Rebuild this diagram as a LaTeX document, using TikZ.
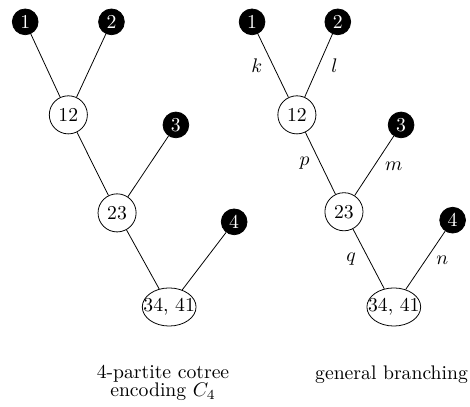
\documentclass[tikz,border=0pt]{standalone}
\usepackage{amsmath}
\usepackage{amssymb}
\usetikzlibrary{positioning,shapes.geometric}

\begin{document}
\begin{tikzpicture}[on grid, leaf/.style = {draw, circle, fill=black, text=white, minimum size=4.6mm, inner sep=0pt}, inner/.style = {draw, circle, minimum size=6.8mm, inner sep=0pt}, root/.style = {draw, ellipse, minimum width=9.6mm, minimum height=6.8mm, inner xsep=-3.5pt, inner ysep=0pt}]
\useasboundingbox (0,0) rectangle (8.39,-7.265);
% cotree
\node[root] (a34) at (3.02,-5.48) {34, 41};
\node[inner] (a23) [above left=1.68cm and 0.93cm of a34] {$23$};
\node[leaf] (a4) [above right=1.52cm and 1.16cm of a34] {$4$};
\node[inner] (a12) [above left=1.75cm and 0.87cm of a23] {$12$};
\node[leaf] (a3) [above right=1.57cm and 1.05cm of a23] {$3$};
\node[leaf] (a1) [above left=1.66cm and 0.77cm of a12] {$1$};
\node[leaf] (a2) [above right=1.66cm and 0.77cm of a12] {$2$};
\draw (a1) -- (a12);
\draw (a2) -- (a12);
\draw (a12) -- (a23);
\draw (a3) -- (a23);
\draw (a23) -- (a34);
\draw (a4) -- (a34);
\node[align=center] (capa) at (2.91,-6.84) {4-partite cotree\\[-3pt] encoding $C_4$};
% branching
\node[root] (b34) at (7.03,-5.48) {34, 41};
\node[inner] (b23) [above left=1.70cm and 0.89cm of b34] {$23$};
\node[leaf] (b4) [above right=1.55cm and 1.05cm of b34] {$4$};
\node[inner] (b12) [above left=1.73cm and 0.84cm of b23] {$12$};
\node[leaf] (b3) [above right=1.55cm and 1.02cm of b23] {$3$};
\node[leaf] (b1) [above left=1.66cm and 0.80cm of b12] {$1$};
\node[leaf] (b2) [above right=1.66cm and 0.73cm of b12] {$2$};
\draw (b1) -- node[left=2pt] {$k$} (b12);
\draw (b2) -- node[right=3pt] {$l$} (b12);
\draw (b12) -- node[left=2pt] {$p$} (b23);
\draw (b3) -- node[right=2pt] {$m$} (b23);
\draw (b23) -- node[left=3pt] {$q$} (b34);
\draw (b4) -- node[right=2pt] {$n$} (b34);
\node (capb) at (6.99,-6.68) {general branching};
\end{tikzpicture}
\end{document}
